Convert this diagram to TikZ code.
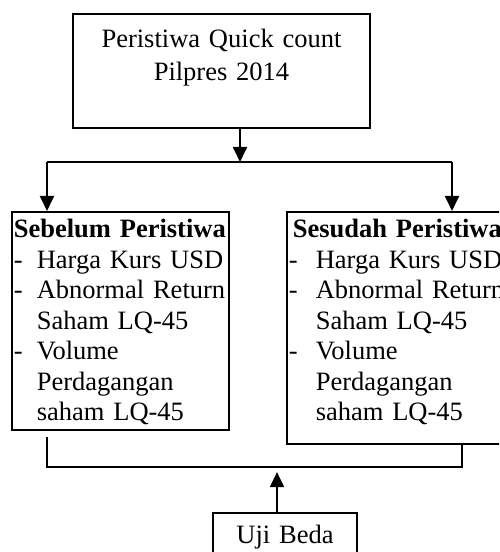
\documentclass[tikz,border=0pt]{standalone}
\usepackage{fontspec}
\setmainfont{Liberation Serif}
\usetikzlibrary{arrows.meta}

\newcommand{\dsh}[1][0pt]{\makebox[10.4pt][l]{\hspace*{#1}-}}
\newcommand{\indt}{\hspace*{10.4pt}}

\begin{document}
\begin{tikzpicture}[
    x=0.4528pt,
    y=-0.4528pt,
    mybox/.style={
      draw,
      line width=0.75pt,
      inner ysep=0pt,
      font=\fontsize{12}{13.8}\selectfont
    },
    conn/.style={
      line width=1pt
    },
    >={Triangle[width=6.3pt,length=6.8pt]}
    ]
    \useasboundingbox (0,0) rectangle (499,552);
    \clip (0,0) rectangle (499,552);

    \node[mybox,anchor=north,inner xsep=0pt,text width=134.5pt,align=center,
      text height=15.4pt,text depth=36.2pt,
      font=\fontsize{12}{14.9}\selectfont] (event) at (221.5,13)
      {Peristiwa Quick count\\Pilpres 2014};

    \node[mybox,anchor=north west,inner xsep=0.9pt,text width=96.5pt,align=left,
      text height=11.8pt,text depth=86.9pt] (before) at (11,211)
      {\mbox{\textbf{Sebelum Peristiwa}}\\
       \mbox{\dsh Harga Kurs USD}\\
       \mbox{\dsh Abnormal Return}\\
       \mbox{\indt Saham LQ-45}\\
       \mbox{\dsh Volume}\\
       \mbox{\indt Perdagangan}\\
       \mbox{\indt saham LQ-45}};

    \node[mybox,anchor=north west,inner xsep=2.7pt,text width=93.8pt,align=left,
      text height=11.8pt,text depth=93.2pt] (after) at (286,211)
      {\mbox{\textbf{Sesudah Peristiwa}}\\
       \mbox{\dsh[-1.8pt]Harga Kurs USD}\\
       \mbox{\dsh[-1.8pt]Abnormal Return}\\
       \mbox{\indt Saham LQ-45}\\
       \mbox{\dsh[-1.8pt]Volume}\\
       \mbox{\indt Perdagangan}\\
       \mbox{\indt saham LQ-45}};

    \node[mybox,anchor=north,inner xsep=0pt,text width=65.2pt,align=center,
      text height=14pt,text depth=18pt] (test) at (285,512) {Uji Beda};

    % junctions
    \coordinate (split) at (240,162);
    \coordinate (jl) at (47,162);
    \coordinate (jr) at (452,162);
    \coordinate (bl) at (47,467);
    \coordinate (br) at (462,467);
    \coordinate (merge) at (277,467);

    \draw[conn,->] (event.south -| split) -- (split);
    \draw[conn] (jl) -- (jr);
    \draw[conn,->] (jl) -- (jl |- before.north);
    \draw[conn,->] (jr) -- (jr |- after.north);
    \draw[conn] (bl |- before.south) ++(0,6) -- (bl) -- (br) -- (br |- after.south);
    \draw[conn,->,shorten >=2.3pt] (test.north -| merge) -- (merge);
\end{tikzpicture}
\end{document}
